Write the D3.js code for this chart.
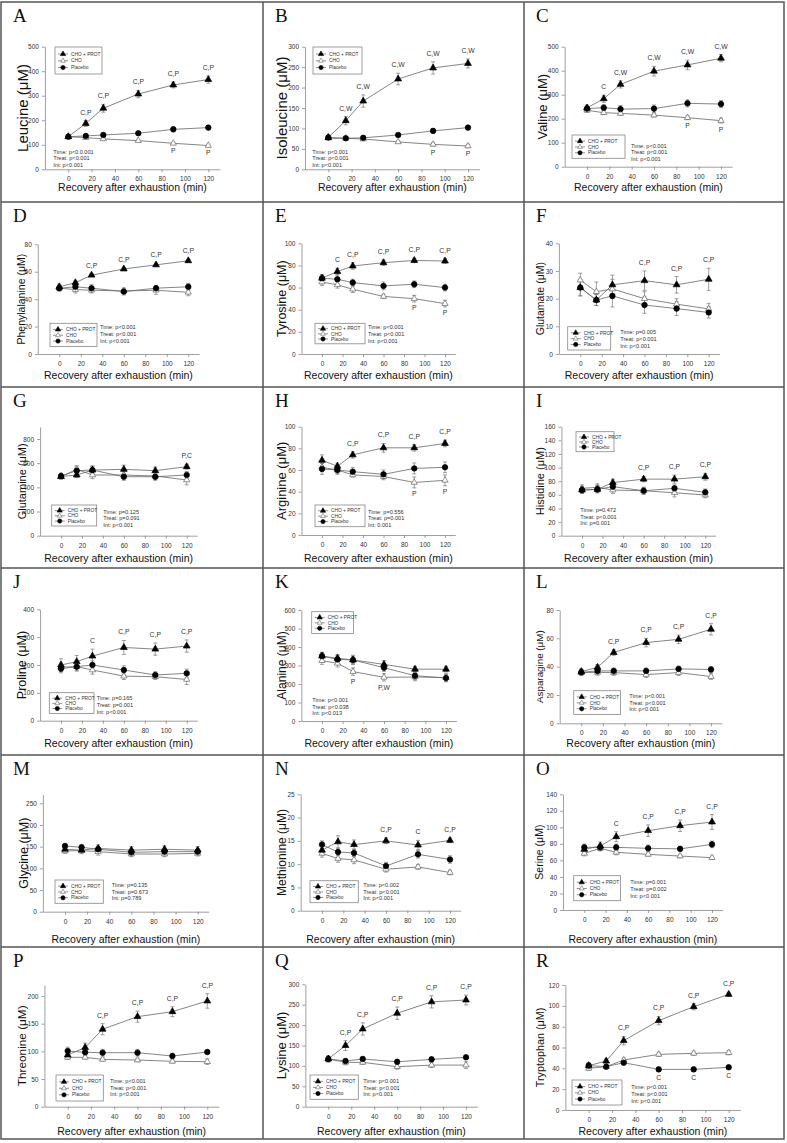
<!DOCTYPE html>
<html><head><meta charset="utf-8">
<script src="https://cdn.jsdelivr.net/npm/d3@7"></script>
<style>body{margin:0;background:#fff}</style>
</head><body><svg id="c" width="787" height="1143"></svg>
<script>
// ---------------- DATA ----------------
const times = [0, 15, 30, 60, 90, 120];
const xTicks = [0, 20, 40, 60, 80, 100, 120];
const letters = ["A","B","C","D","E","F","G","H","I","J","K","L","M","N","O","P","Q","R"];
const yLabels = ["Leucine (μM)","Isoleucine (μM)","Valine (μM)","Phenylalanine (μM)","Tyrosine (μM)","Glutamate (μM)",
  "Glutamine (μM)","Arginine (μM)","Histidine (μM)","Proline (μM)","Alanine (μM)","Asparagine (μM)",
  "Glycine (μM)","Methionine (μM)","Serine (μM)","Threonine (μM)","Lysine (μM)","Tryptophan (μM)"];
const xLabel = "Recovery after exhaustion (min)";
const legendNames = ["CHO + PROT", "CHO", "Placebo"];
const yTickMax = [500,300,500,80,100,40,800,100,160,400,600,80,250,25,140,200,300,120];
const yAxisMax = [500,300,500,80,100,40,900,100,160,400,600,80,270,25,140,220,300,120];
const yTickStep = [100,50,100,20,20,10,200,20,20,100,100,20,50,5,20,50,50,20];

const protMean = [
  [133,187,249,307,344,366],[78,119,167,221,248,259],[245,283,343,398,424,452],
  [49,52,57.5,62,65,68],[68.5,74.5,79.5,82.5,84.5,84],[24,19.5,25,26.5,25,27],
  [490,502,543,549,538,571],[69,63.5,74,80.5,80.5,84.5],[67,68,78,83,83,86.5],
  [200,212,232,263,257,268],[351,339,330,306,280,280],[36.5,39.5,50,57,59.3,66.4],
  [144,142,146,142,144,142],[13,14.8,14.2,15,14.1,15.1],[73.4,77.4,88.7,96,102,106.5],
  [93.4,107,140,162.7,171.7,191],[117,150,190.5,229,257,261.5],[42.6,47,66.6,85.8,99.2,111]];
const protErr = [
  [8,12,16,15,12,15],[5,10,15,14,15,11],[12,15,15,20,20,15],
  [2,1.5,1,1,1,1],[3,3,3,2.5,2,2],[3,2,3.5,3.5,3,4],
  [20,20,35,35,30,20],[5,3,3,4,3,3],[5,5,5,4,6,5],
  [22,22,25,25,22,22],[20,20,20,20,15,15],[2,2,2,3,3,4],
  [8,8,8,8,8,8],[1,1.3,1,0.6,1,0.5],[4,5,6,7,7,9],
  [8,8,10,10,9,13],[8,12,15,15,15,12],[3,2,4,4,3,2]];
const choMean = [
  [133,129,124,117,106,97],[76,76,74,67,61,57],[235,225,222,215,204,192],
  [48,47,46.5,46,46.5,45],[65,62.5,58.5,52,50,45.5],[26.7,22.5,23.5,20,18,16.3],
  [488,549,502,502,494,461],[62.5,60,55.5,54,48.5,50.5],[69.5,71,67,66,63,59.7],
  [192,194,182,160,158,148],[326,312,267,236,238,235],[35.8,36,35.8,34.4,35.8,33],
  [140,141,138.5,133,133,134.5],[12.3,11.2,10.9,8.9,9.4,8.2],[68.5,74.6,69.8,67.3,65.3,63.3],
  [89.2,89.2,85.5,84.3,82,81.3],[117,108.7,108.7,98,102,102],[40,41.6,48,53.4,54.4,55]];
const choErr = [
  [5,5,5,5,5,5],[3,3,3,3,4,4],[8,8,8,8,8,10],
  [2,2.5,2,2,3,2.5],[3,3,3,2,3,3],[2.5,3.5,3.5,2.5,2,2],
  [20,30,30,30,30,40],[4,3,2,3,5,5],[5,5,5,5,6,4],
  [15,15,15,12,10,18],[20,20,20,20,20,20],[2,2,2,2,2,2],
  [5,6,8,6,6,6],[0.8,0.8,0.8,0.6,0.5,0.5],[3,3,3,2,2,2],
  [3,3,3,3,3,5],[6,6,5,6,6,8],[2,2,2,2,2,2]];
const plaMean = [
  [133,136,140,147,163,170],[78,76,77,84,94,102],[242,246,240,242,264,261],
  [48,49,48,45.5,48,49],[68.5,67.5,64.5,61.5,63,60],[24,19.5,21,17.7,16.4,15],
  [494,538,543,488,488,502],[61,60,58.5,56,61.5,62.5],[67,68,72,66,69.5,63.6],
  [187,194,200,182,164,170],[351,333,330,288,245,232],[36,37,37,37,38.4,38],
  [151.5,148.5,144,137,138.5,138.5],[14.2,12.6,12.4,9.6,12.1,11],[75.8,75.8,75.8,74.6,74,79.4],
  [100.6,98.2,97.6,97.6,91.6,98.8],[117,112,117,110,116,121],[42.6,41.6,45.4,39,39,41]];
const plaErr = [
  [6,8,8,7,10,8],[4,4,4,4,5,5],[12,12,15,15,15,15],
  [2,3,2.5,2.5,2,2.5],[3,4,3,3.5,3,3],[3,2,4,3,2.5,2],
  [20,30,30,30,30,30],[5,4,4,4,5,5],[5,5,5,5,5,5],
  [15,15,15,15,12,15],[20,20,25,20,20,20],[2,2,2,2,2,2],
  [5,6,6,6,6,6],[0.8,0.8,0.8,0.8,0.8,0.8],[4,4,4,4,3,4],
  [7,6,6,6,5,4],[6,6,5,6,6,5],[2,2,2,2,2,2]];

const statsText = [
  ["Time: p<0.0.001","Treat: p<0.001","Int: p<0.001"],
  ["Time: p<0.001","Treat: p<0.001","Int: p<0.001"],
  ["Time: p<0.001","Treat: p<0.001","Int: p<0.001"],
  ["Time: p<0.001","Treat: p<0.001","Int: p<0.001"],
  ["Time: p<0.001","Treat: p<0.001","Int: p<0.001"],
  ["Time: p=0.005","Treat: p<0.001","Int: p<0.001"],
  ["Time: p=0.125","Treat: p=0.091","Int: p<0.001"],
  ["Time: p=0.556","Treat: p=0.001","Int: 0.001"],
  ["Time: p=0.472","Treat: p<0.001","Int: p=0.001"],
  ["Time: p=0.165","Treat: p=0.001","Int: p<0.001"],
  ["Time: p<0.001","Treat: p<0.038","Int: p<0.013"],
  ["Time: p<0.001","Treat: p<0.001","Int: p<0.001"],
  ["Time: p=0.135","Treat: p=0.673","Int: p=0.789"],
  ["Time: p<0.002","Treat: p<0.001","Int: p<0.001"],
  ["Time: p=0.001","Treat: p=0.002","Int: p<0.001"],
  ["Time: p<0.001","Treat: p<0.001","Int: p<0.001"],
  ["Time: p<0.001","Treat: p<0.001","Int: p<0.001"],
  ["Time: p<0.001","Treat: p<0.001","Int: p<0.001"]];

// significance labels: [time, text]
const annotProt = [
  [[15,"C,P"],[30,"C,P"],[60,"C,P"],[90,"C,P"],[120,"C,P"]],
  [[15,"C,W"],[30,"C,W"],[60,"C,W"],[90,"C,W"],[120,"C,W"]],
  [[15,"C"],[30,"C,W"],[60,"C,W"],[90,"C,W"],[120,"C,W"]],
  [[30,"C,P"],[60,"C,P"],[90,"C,P"],[120,"C,P"]],
  [[15,"C"],[30,"C,P"],[60,"C,P"],[90,"C,P"],[120,"C,P"]],
  [[60,"C,P"],[90,"C,P"],[120,"C,P"]],
  [[120,"P,C"]],
  [[30,"C,P"],[60,"C,P"],[90,"C,P"],[120,"C,P"]],
  [[60,"C,P"],[90,"C,P"],[120,"C,P"]],
  [[30,"C"],[60,"C,P"],[90,"C,P"],[120,"C,P"]],
  [],
  [[30,"C,P"],[60,"C,P"],[90,"C,P"],[120,"C,P"]],
  [],
  [[60,"C,P"],[90,"C"],[120,"C,P"]],
  [[30,"C"],[60,"C,P"],[90,"C,P"],[120,"C,P"]],
  [[30,"C,P"],[60,"C,P"],[90,"C,P"],[120,"C,P"]],
  [[15,"C,P"],[30,"C,P"],[60,"C,P"],[90,"C,P"],[120,"C,P"]],
  [[30,"C,P"],[60,"C,P"],[90,"C,P"],[120,"C,P"]]];
const annotCho = [
  [[90,"P"],[120,"P"]],[[90,"P"],[120,"P"]],[[90,"P"],[120,"P"]],
  [],[[90,"P"],[120,"P"]],[],
  [],[[90,"P"],[120,"P"]],[],
  [],[[30,"P"],[60,"P,W"]],[],
  [],[],[],
  [],[],[]];
const annotPla = [
  [],[],[],[],[],[],[],[],[],[],[],[],[],[],[],[],[],
  [[60,"C"],[90,"C"],[120,"C"]]];

// ---------------- LAYOUT (pixel geometry) ----------------
const colX = [1, 263, 524, 784];
const rowY = [2, 202, 387, 568, 755, 947, 1139];
const xLabelY = [191, 379, 562, 747, 943, 1135];
const layout = [
  {x0:68.3,x120:208.3,yt:46.7,yb:169.3,ylx:23,ylfs:15,lg:[55,47,47,27],st:[53.3,153.7]},
  {x0:328.3,x120:468,yt:46.7,yb:169.3,ylx:281.7,ylfs:15,lg:[313,47,49,27],st:[312.3,153.7]},
  {x0:587,x120:721,yt:46.7,yb:166.7,ylx:542,ylfs:13,lg:[572,135,53,23.3],st:[631,147.7]},
  {x0:59.3,x120:188.3,yt:244.3,yb:354,ylx:21.7,ylfs:10.5,lg:[50,323.3,47,23.3],st:[100,329.3]},
  {x0:322,x120:445,yt:243.3,yb:354,ylx:281.7,ylfs:12.5,lg:[315,323.3,50,20.5],st:[368,329.3]},
  {x0:580.3,x120:708.7,yt:243.3,yb:354,ylx:540.3,ylfs:10.5,lg:[567.7,326.7,43,23.3],st:[620.3,334.3]},
  {x0:61,x120:186.7,yt:439,yb:535.7,ylx:21.7,ylfs:11,lg:[51.7,505,45,21],st:[103.3,513.7]},
  {x0:322,x120:445,yt:426.7,yb:535,ylx:281.7,ylfs:13,lg:[315,505,50,21.7],st:[368,513.7]},
  {x0:582,x120:705.3,yt:426.7,yb:535.7,ylx:540.3,ylfs:11,lg:[576,431.7,38,20],st:[580.3,512]},
  {x0:61,x120:186.7,yt:609.3,yb:720.7,ylx:21.7,ylfs:12.5,lg:[49.3,692.7,44.7,20.7],st:[96.7,700.3]},
  {x0:322,x120:446,yt:610,yb:721,ylx:281.7,ylfs:12,lg:[311.7,611.7,41.7,21.7],st:[312.3,702]},
  {x0:581.3,x120:711,yt:610,yb:723.3,ylx:539.7,ylfs:9.8,lg:[573.7,690.7,46.7,23.7],st:[629.3,698]},
  {x0:65,x120:197.7,yt:803.3,yb:911.7,ylx:24,ylfs:12.5,lg:[55,880,48.3,23.3],st:[111.7,887]},
  {x0:322,x120:450,yt:794.3,yb:910.7,ylx:281.7,ylfs:12,lg:[310,880.7,48.3,22],st:[363.3,887]},
  {x0:584.3,x120:712,yt:794.3,yb:910,ylx:539.7,ylfs:10.5,lg:[573.7,875.7,46.7,25],st:[630.3,884.3]},
  {x0:67.7,x120:207.3,yt:996,yb:1106.7,ylx:21.7,ylfs:11.8,lg:[56,1075,47.3,26],st:[110,1083]},
  {x0:328.3,x120:466,yt:984.3,yb:1106.7,ylx:281.7,ylfs:13,lg:[310,1075,48.3,24.3],st:[363.3,1083]},
  {x0:588.7,x120:728.7,yt:985,yb:1110,ylx:540.3,ylfs:10.8,lg:[572,1080,50,25],st:[631.3,1089.3]}];

const SANS = "'Liberation Sans', Arial, sans-serif";
const SERIF = "'Liberation Serif', 'Times New Roman', serif";
const seriesStyle = [
  {sym: d3.symbolTriangle, fill: "#000", stroke: "#000", size: 20},
  {sym: d3.symbolTriangle, fill: "#fff", stroke: "#666", size: 17},
  {sym: d3.symbolCircle, fill: "#000", stroke: "#000", size: 24}];

const svg = d3.select("#c");

// frame & dividers
svg.append("rect").attr("x", colX[0]).attr("y", rowY[0]).attr("width", colX[3]-colX[0])
  .attr("height", rowY[6]-rowY[0]).attr("fill", "none").attr("stroke", "#555").attr("stroke-width", 1.5);
[colX[1], colX[2]].forEach(cx => svg.append("line").attr("x1", cx).attr("x2", cx)
  .attr("y1", rowY[0]).attr("y2", rowY[6]).attr("stroke", "#555").attr("stroke-width", 1.5));
rowY.slice(1, 6).forEach(ry => svg.append("line").attr("x1", colX[0]).attr("x2", colX[3])
  .attr("y1", ry).attr("y2", ry).attr("stroke", "#555").attr("stroke-width", 1.5));

function drawPanel(i) {
  const L = layout[i];
  const col = i % 3, row = Math.floor(i / 3);
  const s = (L.x120 - L.x0) / 120;
  const x = d3.scaleLinear().domain([-20, 130]).range([L.x0 - 20*s, L.x120 + 10*s]);
  const sy = (L.yb - L.yt) / yTickMax[i];
  const y = d3.scaleLinear().domain([0, yAxisMax[i]]).range([L.yb, L.yb - sy*yAxisMax[i]]);
  const g = svg.append("g");

  // panel letter
  g.append("text").attr("x", colX[col] + 12).attr("y", rowY[row] + 20)
    .attr("font-family", SERIF).attr("font-size", 19).attr("fill", "#111").text(letters[i]);

  // axes
  const yTicks = d3.range(0, yTickMax[i] + yTickStep[i]/2, yTickStep[i]);
  const ax = g.append("g").attr("transform", `translate(0,${y(0)})`)
    .call(d3.axisBottom(x).tickValues(xTicks).tickSize(3).tickSizeOuter(0).tickPadding(4.5));
  const ay = g.append("g").attr("transform", `translate(${x(-20)},0)`)
    .call(d3.axisLeft(y).tickValues(yTicks).tickSize(3).tickSizeOuter(0).tickPadding(3));
  [ax, ay].forEach(a => {
    a.attr("font-family", SANS).attr("font-size", 6.5);
    a.selectAll("path,line").attr("stroke", "#888").attr("stroke-width", 0.8);
    a.selectAll("text").attr("fill", "#333");
  });

  // axis labels
  g.append("text").attr("x", (x(-20) + x(130)) / 2).attr("y", xLabelY[row])
    .attr("text-anchor", "middle").attr("font-family", SANS).attr("font-size", 10.5)
    .attr("fill", "#111").text(xLabel);
  const ymid = (y(0) + y(yAxisMax[i])) / 2;
  g.append("text").attr("transform", `translate(${L.ylx},${ymid}) rotate(-90)`)
    .attr("text-anchor", "middle").attr("dy", "0.35em").attr("font-family", SANS)
    .attr("font-size", L.ylfs).attr("fill", "#111").text(yLabels[i]);

  const series = [
    {m: choMean[i], e: choErr[i], st: seriesStyle[1]},
    {m: plaMean[i], e: plaErr[i], st: seriesStyle[2]},
    {m: protMean[i], e: protErr[i], st: seriesStyle[0]}];
  const line = d3.line().x((d, k) => x(times[k])).y(d => y(d));
  series.forEach(sr => g.append("path").attr("d", line(sr.m)).attr("fill", "none")
    .attr("stroke", "#666").attr("stroke-width", 0.8));
  series.forEach(sr => {
    sr.m.forEach((v, k) => {
      const cx = x(times[k]);
      g.append("line").attr("x1", cx).attr("x2", cx).attr("y1", y(v - sr.e[k])).attr("y2", y(v + sr.e[k]))
        .attr("stroke", "#777").attr("stroke-width", 0.7);
      [v - sr.e[k], v + sr.e[k]].forEach(w => g.append("line").attr("x1", cx - 2).attr("x2", cx + 2)
        .attr("y1", y(w)).attr("y2", y(w)).attr("stroke", "#777").attr("stroke-width", 0.7));
    });
  });
  series.forEach(sr => {
    sr.m.forEach((v, k) => {
      g.append("path").attr("d", d3.symbol().type(sr.st.sym).size(sr.st.size)())
        .attr("transform", `translate(${x(times[k])},${y(v)})`)
        .attr("fill", sr.st.fill).attr("stroke", sr.st.stroke).attr("stroke-width", 0.7);
    });
  });

  // significance annotations
  const ann = (list, mean, err, above) => list.forEach(([t, txt]) => {
    const k = times.indexOf(t);
    const yy = above ? y(mean[k] + err[k]) - 6 : y(mean[k] - err[k]) + 8.5;
    g.append("text").attr("x", x(t)).attr("y", yy).attr("text-anchor", "middle")
      .attr("font-family", SANS).attr("font-size", 6.8).attr("fill", "#333").text(txt);
  });
  ann(annotProt[i], protMean[i], protErr[i], true);
  ann(annotCho[i], choMean[i], choErr[i], false);
  ann(annotPla[i], plaMean[i], plaErr[i], false);

  // legend
  const [lx, ly, lw, lh] = L.lg;
  g.append("rect").attr("x", lx).attr("y", ly).attr("width", lw).attr("height", lh)
    .attr("fill", "#fff").attr("stroke", "#888").attr("stroke-width", 0.8);
  [0, 1, 2].forEach(r => {
    const ry = ly + lh * (r + 1) / 4 + 0.3;
    g.append("line").attr("x1", lx + 3).attr("x2", lx + 13).attr("y1", ry).attr("y2", ry)
      .attr("stroke", "#666").attr("stroke-width", 0.7);
    g.append("path").attr("d", d3.symbol().type(seriesStyle[r].sym).size(seriesStyle[r].size * 0.6)())
      .attr("transform", `translate(${lx + 8},${ry})`).attr("fill", seriesStyle[r].fill)
      .attr("stroke", seriesStyle[r].stroke).attr("stroke-width", 0.6);
    g.append("text").attr("x", lx + 16).attr("y", ry).attr("dy", "0.35em")
      .attr("font-family", SANS).attr("font-size", 4.8).attr("fill", "#333").text(legendNames[r]);
  });

  // stats
  statsText[i].forEach((t, r) => g.append("text").attr("x", L.st[0]).attr("y", L.st[1] + r * 6.6)
    .attr("font-family", SANS).attr("font-size", 5.6).attr("fill", "#333").text(t));
}

d3.range(18).forEach(drawPanel);
</script></body></html>
